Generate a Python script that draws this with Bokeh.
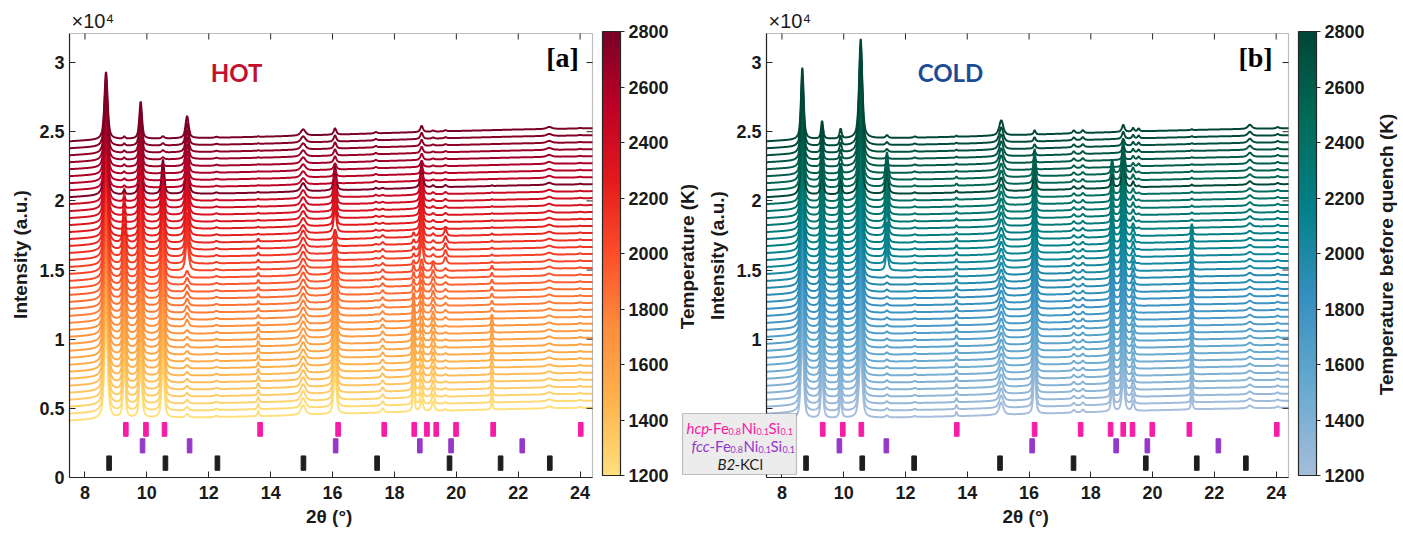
import numpy as np
from bokeh.plotting import figure
from bokeh.models import (ColumnDataSource, LinearColorMapper, ColorBar, FixedTicker,
                          Label, BoxAnnotation, Range1d, Title)
from bokeh.layouts import row
from bokeh.embed import file_html
from bokeh.resources import INLINE
from bokeh.transform import linear_cmap

# ---------------- data ----------------
two_theta_range = (7.5, 24.4)
two_theta_step = 0.01
intensity_range = (0, 32100)

x_ticks = [8, 10, 12, 14, 16, 18, 20, 22, 24]
y_ticks = [0, 5000, 10000, 15000, 20000, 25000, 30000]
y_tick_labels = ["0", "0.5", "1", "1.5", "2", "2.5", "3"]
cbar_ticks = [1200, 1400, 1600, 1800, 2000, 2200, 2400, 2600, 2800]

# temperature of each stacked pattern (bottom -> top)
temps_hot = [1200, 1240, 1280, 1320, 1360, 1400, 1440, 1480, 1520, 1560, 1600,
             1640, 1680, 1720, 1760, 1800, 1840, 1880, 1920, 1960, 2000, 2040,
             2080, 2120, 2160, 2200, 2240, 2280, 2320, 2360, 2400, 2440, 2800,
             2520, 2560, 2600, 2640, 2680, 2720, 2760, 2800]
temps_cold = [1200, 1240, 1280, 1320, 1360, 1400, 1440, 1480, 1520, 1560, 1600,
              1640, 1680, 1720, 1760, 1800, 1840, 1880, 1920, 1960, 2000, 2040,
              2080, 2120, 2160, 2200, 2240, 2280, 2320, 2360, 2400, 2440, 2800,
              2520, 2560, 2600, 2640, 2680, 2720, 2760, 2800]

# phase regime of each pattern (bottom -> top)
phases_hot = list("AAAAAAAAAAAAA" "BBBBBBBB" "EEEEE" "CCCCCCC" "DDDDDDDD")
phases_cold = list("AAAAAAAAAAAAAAAAAAAAA" "EEEEE" "BBBBBBBBB" "CCCCCC")

# smooth background rise (same for every pattern)
background_tt = [7.5, 8.0, 9.0, 12.0, 14.0, 16.0, 18.0, 20.0, 22.0, 24.4]
background_int = [0, 60, 150, 250, 350, 480, 620, 750, 860, 950]

# HOT peaks: position, half width, amplitude per regime
hot_peak_pos = [8.68, 9.27, 9.80, 10.52, 11.30, 12.25, 13.60, 15.05, 16.08,
                17.40, 17.62, 18.62, 18.88, 19.25, 19.65, 21.15, 23.00, 24.00]
hot_peak_wid = [0.06, 0.04, 0.05, 0.05, 0.06, 0.06, 0.03, 0.09, 0.05,
                0.05, 0.05, 0.03, 0.05, 0.05, 0.05, 0.03, 0.10, 0.05]
hot_amp = {
    "A": [8000, 5000, 4000, 4500, 250, 100, 400, 700, 3500, 0, 300, 2500, 800, 700, 100, 600, 150, 80],
    "B": [7000, 4500, 4000, 4000, 500, 100, 250, 700, 3000, 50, 250, 500, 900, 600, 200, 300, 150, 60],
    "E": [7000, 4000, 4000, 3500, 2200, 100, 200, 700, 700, 80, 200, 300, 1800, 200, 500, 100, 150, 60],
    "C": [6000, 300, 3500, 2500, 2500, 80, 60, 600, 1800, 100, 80, 0, 1800, 150, 150, 50, 150, 40],
    "D": [4900, 150, 2700, 150, 1600, 60, 40, 450, 450, 100, 0, 0, 450, 80, 80, 0, 150, 40],
}

# COLD peaks
cold_peak_pos = [8.66, 9.30, 9.90, 10.55, 11.40, 12.30, 13.65, 15.10, 16.18,
                 17.45, 17.74, 18.69, 19.05, 19.37, 19.55, 21.27, 23.15, 24.05]
cold_peak_wid = [0.05, 0.04, 0.04, 0.06, 0.05, 0.05, 0.03, 0.08, 0.04,
                 0.05, 0.05, 0.04, 0.05, 0.04, 0.04, 0.03, 0.08, 0.05]
cold_amp = {
    "A": [7000, 4000, 1500, 5000, 150, 80, 300, 900, 4000, 200, 200, 1800, 2500, 700, 0, 1000, 200, 100],
    "E": [6500, 3500, 1400, 5500, 1500, 80, 250, 900, 3500, 200, 200, 1800, 2500, 600, 50, 800, 200, 100],
    "B": [6000, 2500, 1200, 6000, 2000, 80, 150, 1000, 2000, 200, 200, 1000, 2500, 400, 100, 100, 250, 100],
    "C": [5200, 1300, 700, 7200, 200, 80, 80, 1100, 300, 200, 200, 0, 500, 250, 200, 60, 300, 100],
}

# reference reflection positions (2theta)
hcp_pos = [9.32, 9.97, 10.57, 13.66, 16.18, 17.67, 18.64, 19.05, 19.35, 19.99, 21.19, 24.02]
fcc_pos = [9.86, 11.38, 16.10, 18.82, 19.83, 22.13]
b2_pos = [8.78, 10.60, 12.28, 15.06, 17.44, 19.78, 21.43, 23.02]

# ---------------- styling / layout ----------------
hot_anchor = ["#fee07c", "#feb24c", "#fd8d3c", "#fc4e2a", "#e31a1c", "#bd0026", "#7a0026"]
cold_anchor = ["#a6bddb", "#67a9cf", "#3690c0", "#02818a", "#016c59", "#014636"]
HCP_COL, FCC_COL, B2_COL = "#f81ca6", "#9638c8", "#1e1e1e"
AX_COL = "#262626"
TXT_COL = "#1a1a1a"
TICK_FONT = "Liberation Sans"
first_offset = 4100
offset_step = 505
eta = 0.65

FT, FB = 33, 477          # axes box top/bottom on page
FH = FB - FT
TOP_PAD = 2               # frame extends this far above the box
BOTTOM_BORDER = 58
GAP = 10                  # white gap between box and colour bar
A_FL, A_FW = 69, 523      # panel a axes box
B_AX, B_FW = 765, 522     # panel b axes box
B_CANVAS_LEFT = 670       # panel b canvas (and frame) starts here
B_CANVAS_RIGHT = 1370     # then a thin strip that holds the last colour bar title
PAGE_W = 1400
TICK_LEN = 6


def interp_palette(anchors, n=256):
    rgb = np.array([[int(c[k:k + 2], 16) for k in (1, 3, 5)] for c in anchors], float)
    t = np.linspace(0, 1, len(anchors))
    out = []
    for v in np.linspace(0, 1, n):
        r, g, b = (np.interp(v, t, rgb[:, j]) for j in range(3))
        out.append("#%02x%02x%02x" % (int(round(r)), int(round(g)), int(round(b))))
    return out


tt = np.arange(two_theta_range[0], two_theta_range[1] + two_theta_step / 2, two_theta_step)


def pattern(pos, wid, amps):
    y = np.interp(tt, background_tt, background_int)
    for p0, w, a in zip(pos, wid, amps):
        if a:
            d = (tt - p0) / w
            y = y + a * (eta / (1 + d * d) + (1 - eta) * np.exp(-np.log(2) * d * d))
    return y


def px2x(px, fl, fw):
    return two_theta_range[0] + (px - fl) * (two_theta_range[1] - two_theta_range[0]) / fw


def py2y(py):
    return intensity_range[0] + (FB - py) * (intensity_range[1] - intensity_range[0]) / FH


def style_axis(ax):
    ax.major_tick_in = TICK_LEN
    ax.major_tick_out = 0
    ax.minor_tick_in = 0
    ax.minor_tick_out = 0
    ax.major_tick_line_color = AX_COL
    ax.axis_line_color = AX_COL
    ax.axis_line_width = 1.2
    ax.major_label_text_font = TICK_FONT
    ax.major_label_text_font_style = "bold"
    ax.major_label_text_font_size = "18px"
    ax.major_label_text_color = TXT_COL
    ax.axis_label_text_font = TICK_FONT
    ax.axis_label_text_font_style = "bold"
    ax.axis_label_text_font_size = "19px"
    ax.axis_label_text_color = TXT_COL


def make_panel(temps, phases, pos, wid, amp, palette, box_left, box_w, canvas_left, canvas_right,
               hide_low=False):
    frame_left = min(box_left, canvas_left if canvas_left > 0 else box_left)
    x0 = px2x(frame_left, box_left, box_w)
    x1 = px2x(box_left + box_w + GAP, box_left, box_w)
    fw = box_left + box_w + GAP - frame_left
    p = figure(frame_width=fw, frame_height=FH + TOP_PAD,
               x_range=Range1d(x0, x1), y_range=Range1d(intensity_range[0], py2y(FT - TOP_PAD)),
               output_backend="svg", toolbar_location=None,
               min_border_left=frame_left - canvas_left, min_border_right=canvas_right - box_left - box_w - GAP,
               min_border_top=FT - TOP_PAD, min_border_bottom=BOTTOM_BORDER)
    p.grid.visible = False
    p.background_fill_color = "white"
    p.border_fill_color = "white"
    p.outline_line_color = None

    ys = [first_offset + offset_step * i + pattern(pos, wid, amp[ph]) for i, ph in enumerate(phases)]
    src = ColumnDataSource(dict(xs=[tt] * len(ys), ys=ys, T=temps))
    p.multi_line("xs", "ys", source=src, line_width=2,
                 line_color=linear_cmap("T", palette, cbar_ticks[0], cbar_ticks[-1]))

    # reference reflection markers
    p.vbar(x=hcp_pos, bottom=2980, top=3980, width=0.15, color=HCP_COL)
    p.vbar(x=fcc_pos, bottom=1780, top=2800, width=0.15, color=FCC_COL)
    p.vbar(x=b2_pos, bottom=520, top=1560, width=0.15, color=B2_COL)

    # axes box and mirrored inward ticks (top / right)
    xt = two_theta_range[1]
    yt = intensity_range[1]
    dx = px2x(box_left + TICK_LEN, box_left, box_w) - two_theta_range[0]
    dy = py2y(FB - TICK_LEN)
    p.add_layout(BoxAnnotation(left=two_theta_range[0], right=xt, bottom=intensity_range[0], top=yt,
                               fill_alpha=0, line_color=AX_COL, line_width=1.2))
    p.segment(x0=x_ticks, x1=x_ticks, y0=[yt] * len(x_ticks), y1=[yt - dy] * len(x_ticks),
              line_color=AX_COL, line_width=1)
    p.segment(x0=[xt] * len(y_ticks), x1=[xt - dx] * len(y_ticks), y0=y_ticks, y1=y_ticks,
              line_color=AX_COL, line_width=1)

    xa, ya = p.xaxis[0], p.yaxis[0]
    style_axis(xa)
    style_axis(ya)
    xa.ticker = FixedTicker(ticks=x_ticks)
    ya.ticker = FixedTicker(ticks=y_ticks)
    xa.bounds = two_theta_range
    ya.bounds = intensity_range
    over = {t: l for t, l in zip(y_ticks, y_tick_labels)}
    if hide_low:
        over[0] = ""
        over[5000] = ""
    ya.major_label_overrides = over
    ya.axis_label = "Intensity (a.u.)"
    xa.major_label_standoff = 8
    ya.major_label_standoff = 5
    ya.axis_label_standoff = 5
    if x0 < two_theta_range[0]:
        ya.fixed_location = two_theta_range[0]

    mapper = LinearColorMapper(palette=palette, low=cbar_ticks[0], high=cbar_ticks[-1])
    cb = ColorBar(color_mapper=mapper, ticker=FixedTicker(ticks=cbar_ticks), width=18,
                  height=FH, padding=0, margin=0, bar_line_color=AX_COL, bar_line_width=1.2,
                  major_tick_in=0, major_tick_out=4, major_tick_line_color=AX_COL,
                  minor_tick_line_color=None, label_standoff=4,
                  major_label_text_font=TICK_FONT, major_label_text_font_style="bold",
                  major_label_text_font_size="18px", major_label_text_color=TXT_COL,
                  border_line_color=None, background_fill_color=None)
    p.add_layout(cb, "right")

    # x10^4 multiplier above the axes box
    p.add_layout(Title(text="×10⁴", align="left", offset=box_left - frame_left + 2, standoff=0,
                       text_font=TICK_FONT, text_font_style="normal", text_font_size="20px",
                       text_color=TXT_COL), "above")
    # x axis title, centred under the box
    p.add_layout(Title(text="2θ (°)", align="left", offset=box_left - frame_left + box_w / 2 - 25,
                       standoff=4, text_font=TICK_FONT, text_font_style="bold",
                       text_font_size="19px", text_color=TXT_COL), "below")
    return p


hot_pal = interp_palette(hot_anchor)
cold_pal = interp_palette(cold_anchor)

pa = make_panel(temps_hot, phases_hot, hot_peak_pos, hot_peak_wid, hot_amp, hot_pal,
                A_FL, A_FW, 0, B_CANVAS_LEFT)
pb = make_panel(temps_cold, phases_cold, cold_peak_pos, cold_peak_wid, cold_amp, cold_pal,
                B_AX, B_FW, B_CANVAS_LEFT, B_CANVAS_RIGHT, hide_low=True)

# thin strip holding the colour bar title of panel b (vertical, reads bottom to top)
strip_frame_w = 2
pc = figure(frame_width=strip_frame_w, frame_height=FH + TOP_PAD,
            x_range=Range1d(0, 1), y_range=Range1d(0, 1),
            x_axis_location=None, y_axis_location=None,
            output_backend="svg", toolbar_location=None,
            min_border_left=PAGE_W - B_CANVAS_RIGHT - strip_frame_w - 2, min_border_right=2,
            min_border_top=FT - TOP_PAD, min_border_bottom=BOTTOM_BORDER)
pc.grid.visible = False
pc.outline_line_color = None
pc.background_fill_color = "white"
pc.border_fill_color = "white"
pc.add_layout(Title(text="Temperature before quench (K)", align="center", standoff=1,
                    text_font=TICK_FONT, text_font_style="bold", text_font_size="19px",
                    text_color=TXT_COL), "left")

# panel texts
pa.add_layout(Label(x=px2x(236, A_FL, A_FW), y=py2y(72), text="HOT", text_font="Lato",
                    text_font_style="bold", text_font_size="24px", text_color="#c3102f",
                    text_align="center", text_baseline="middle"))
pa.add_layout(Label(x=px2x(562, A_FL, A_FW), y=py2y(57), text="[a]", text_font="Liberation Serif",
                    text_font_style="bold", text_font_size="28px", text_color="black",
                    text_align="center", text_baseline="middle"))
pb.add_layout(Label(x=px2x(949, B_AX, B_FW), y=py2y(72), text="COLD", text_font="Lato",
                    text_font_style="bold", text_font_size="24px", text_color="#1c4c96",
                    text_align="center", text_baseline="middle"))
pb.add_layout(Label(x=px2x(1254, B_AX, B_FW), y=py2y(57), text="[b]", text_font="Liberation Serif",
                    text_font_style="bold", text_font_size="28px", text_color="black",
                    text_align="center", text_baseline="middle"))

# colour bar title of panel a (sits in panel b's left margin area)
pb.add_layout(Label(x=px2x(686, B_AX, B_FW), y=py2y(256), text="Temperature (K)",
                    text_font=TICK_FONT, text_font_style="bold", text_font_size="19px",
                    text_color=TXT_COL, angle=np.pi / 2, text_align="center", text_baseline="middle"))

# legend box
pb.add_layout(BoxAnnotation(left=px2x(681, B_AX, B_FW), right=px2x(795, B_AX, B_FW),
                            bottom=py2y(474), top=py2y(413), fill_color="#ececec", fill_alpha=1,
                            line_color="#3a3a3a", line_width=1.2))


def piece(fig, px, py, text, color, size, style="normal"):
    fig.add_layout(Label(x=px2x(px, B_AX, B_FW), y=py2y(py), text=text, text_font="Lato",
                         text_font_size="%dpx" % size, text_font_style=style, text_color=color,
                         text_align="left", text_baseline="middle"))


def formula_line(fig, x0, yc, head, color):
    # head (italic) + -Fe0.8Ni0.1Si0.1
    w = {"hcp": 21, "fcc": 18}[head]
    x = x0
    piece(fig, x, yc, head, color, 15, "italic"); x += w
    piece(fig, x, yc, "-Fe", color, 15); x += 21
    piece(fig, x, yc + 4, "0.8", color, 9); x += 13
    piece(fig, x, yc, "Ni", color, 15); x += 15
    piece(fig, x, yc + 4, "0.1", color, 9); x += 12
    piece(fig, x, yc, "Si", color, 15); x += 12
    piece(fig, x, yc + 4, "0.1", color, 9)


formula_line(pb, 685, 427, "hcp", HCP_COL)
formula_line(pb, 690, 445, "fcc", FCC_COL)
piece(pb, 716, 463, "B2", B2_COL, 15, "italic")
piece(pb, 733, 463, "-KCl", B2_COL, 15)

layout = row(pa, pb, pc)
open("out.html", "w").write(file_html(layout, INLINE))
